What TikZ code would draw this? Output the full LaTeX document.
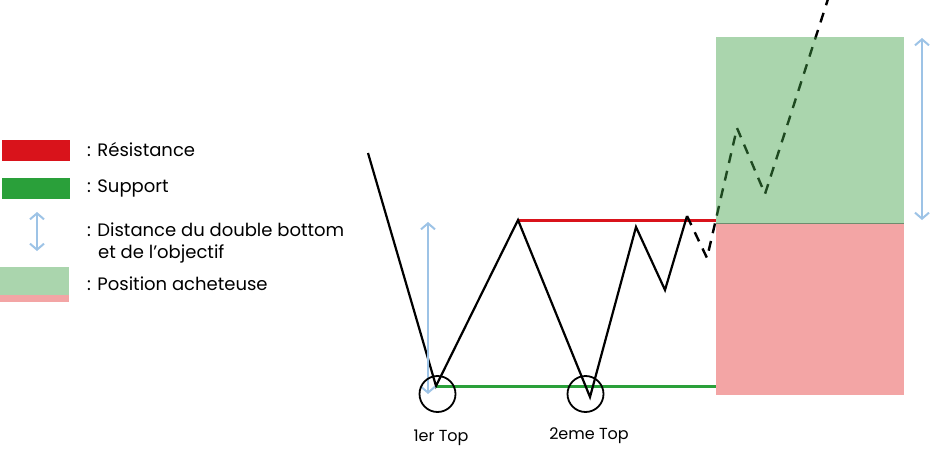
\documentclass[tikz,border=0pt]{standalone}
\usepackage{fontspec}
\setmainfont{Poppins}
\usetikzlibrary{arrows.meta}
\definecolor{resred}{HTML}{D9131B}
\definecolor{supgreen}{HTML}{2AA03A}
\definecolor{posgreen}{RGB}{67,162,73}
\definecolor{posred}{HTML}{F3A5A5}
\definecolor{distblue}{HTML}{9DC3E6}
\definecolor{sepline}{RGB}{110,140,110}
\tikzset{
  lbl/.style={anchor=base west, inner sep=0pt, font=\fontsize{18}{21}\selectfont},
  toplbl/.style={anchor=base, inner sep=0pt, font=\fontsize{16}{19}\selectfont},
  price/.style={line width=2.2pt, black, line join=miter},
  future/.style={line width=2.4pt, black, dash pattern=on 10pt off 8pt},
  distarrow/.style={line width=2pt, distblue, {Straight Barb[length=6pt,width=14pt]}-{Straight Barb[length=6pt,width=14pt]}},
  topcircle/.style={draw, circle, line width=1.8pt, minimum size=36pt, inner sep=0pt},
}
\begin{document}
\begin{tikzpicture}[x=1pt,y=-1pt]
\useasboundingbox (0,0) rectangle (931,449);
% legend
\fill[resred] (2,140) rectangle (70,161);
\fill[supgreen] (2,178) rectangle (70,199);
\coordinate (la1) at (37,212);
\coordinate (la2) at (37,251);
\draw[distarrow] (la1) -- (la2);
\fill[posgreen, fill opacity=0.45] (0,267) rectangle (69,295);
\fill[posred] (0,295) rectangle (69,302);
\node[lbl] (l1) at (87,157) {: Résistance};
\node[lbl] (l2) at (87,193) {: Support};
\node[lbl] (l3) at (87,236.5) {: Distance du double bottom};
\node[lbl] (l3b) at (98,258) {et de l’objectif};
\node[lbl] (l4) at (87,290.5) {: Position acheteuse};
% chart points
\coordinate (p0) at (368,153);
\coordinate (p1) at (436,386);
\coordinate (p2) at (518,220);
\coordinate (p3) at (590,397);
\coordinate (p4) at (636,227);
\coordinate (p5) at (665,290);
\coordinate (p6) at (687,216);
\coordinate (p7) at (707,258);
\coordinate (p8) at (737,128);
\coordinate (p9) at (765,194);
\coordinate (p10) at (829,-4);
% position boxes
\fill[posred] (716,223) rectangle (904,395);
% support & resistance
\draw[resred, line width=3pt] (p2) -- (716,220);
\draw[supgreen, line width=3pt] (p1) -- (716,386);
% price path
\draw[price] (p0) -- (p1) -- (p2) -- (p3) -- (p4) -- (p5) -- (p6);
\draw[future] (p6) -- (p7) -- (p8) -- (p9) -- (p10);
\fill[posgreen, fill opacity=0.45] (716,37) rectangle (904,223);
\draw[sepline, line width=0.8pt] (716,223) -- (904,223);
% distance arrows
\coordinate (a1) at (428,222);
\coordinate (a2) at (428,394);
\draw[distarrow] (a1) -- (a2);
\coordinate (b1) at (922,38);
\coordinate (b2) at (922,220);
\draw[distarrow] (b1) -- (b2);
% circles
\node[topcircle] (c1) at (437.5,394) {};
\node[topcircle] (c2) at (585.5,394) {};
\node[toplbl] (t1) at (441,441) {1er Top};
\node[toplbl] (t2) at (589,439) {2eme Top};
\end{tikzpicture}
\end{document}
